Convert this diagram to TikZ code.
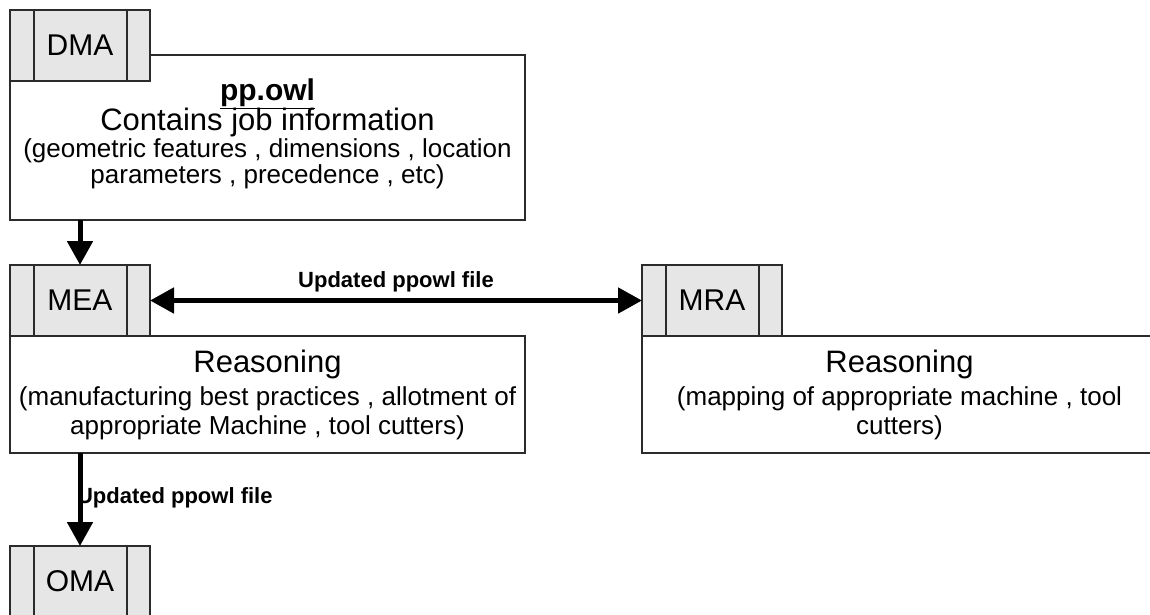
\documentclass[tikz,border=0pt]{standalone}
\usepackage{fontspec}
\setmainfont{Liberation Sans}
\usetikzlibrary{positioning,arrows.meta}

\definecolor{tabgrey}{HTML}{E6E6E6}
\definecolor{edgegrey}{HTML}{2B2B2B}

\begin{document}
\begin{tikzpicture}[
    x=1pt, y=-1pt,
    every node/.style={inner sep=0pt, outer sep=0pt},
    agentbox/.style={draw=edgegrey, line width=1.6pt, fill=white,
        minimum width=515pt, anchor=north west, align=center,
        font=\fontsize{26}{29}\selectfont},
    agenttab/.style={draw=edgegrey, line width=1.6pt, fill=tabgrey,
        minimum width=140pt, minimum height=71pt, anchor=north west,
        font=\fontsize{30}{30}\selectfont},
    boxtext/.style={align=center, font=\fontsize{26}{26}\selectfont},
    flow/.style={line width=5pt, -{Triangle[length=24pt,width=25pt]}},
    flowlabel/.style={font=\bfseries\fontsize{22}{22}\selectfont}]

\useasboundingbox (0,0) rectangle (1150,614);
\clip (0,0) rectangle (1150,614);
\fill[white] (0,0) rectangle (1150,614);

% DMA
\node[agentbox, minimum height=165pt] (dmabox) at (10,55) {};
\node[agenttab] (dma) at (10,10) {DMA};
\node[boxtext, below=24pt of dmabox.north] (dmatext)
    {{\fontsize{30}{30}\selectfont\bfseries\underline{pp.owl}}\\[-2pt]
     {\fontsize{31}{31}\selectfont Contains job information}\\[1pt]
     (geometric features , dimensions , location\\
     parameters , precedence , etc)};

% MEA
\node[agenttab] (mea) at (10,265) {MEA};
\node[agentbox, minimum height=117pt] (meabox) at (mea.south west)
    {{\fontsize{31}{31}\selectfont Reasoning}\\[4pt]
     (manufacturing best practices , allotment of\\
     appropriate Machine  , tool cutters)};

% MRA
\node[agenttab] (mra) at (642,265) {MRA};
\node[agentbox, minimum height=117pt] (mrabox) at (mra.south west)
    {{\fontsize{31}{31}\selectfont Reasoning}\\[4pt]
     (mapping of appropriate machine  , tool\\
     cutters)};

% OMA
\node[agenttab] (oma) at (10,546) {OMA};

% side bars of the tabs
\foreach \t in {dma,mea,mra,oma} {
    \draw[draw=edgegrey, line width=1.6pt]
        ([xshift=24pt]\t.north west) -- ([xshift=24pt]\t.south west);
    \draw[draw=edgegrey, line width=1.6pt]
        ([xshift=-23pt]\t.north east) -- ([xshift=-23pt]\t.south east);
}

% flows
\draw[flow] (dma |- dmabox.south) -- (mea.north);
\draw[flow, {Triangle[length=24pt,width=25pt]}-{Triangle[length=24pt,width=25pt]}]
    (mea.east) -- node[flowlabel, above=8pt] {Updated ppowl file} (mra.west);
\node[flowlabel, anchor=west] (uplabel) at (77,498) {Updated ppowl file};
\draw[flow] (mea |- meabox.south) -- (oma.north);

\end{tikzpicture}
\end{document}
